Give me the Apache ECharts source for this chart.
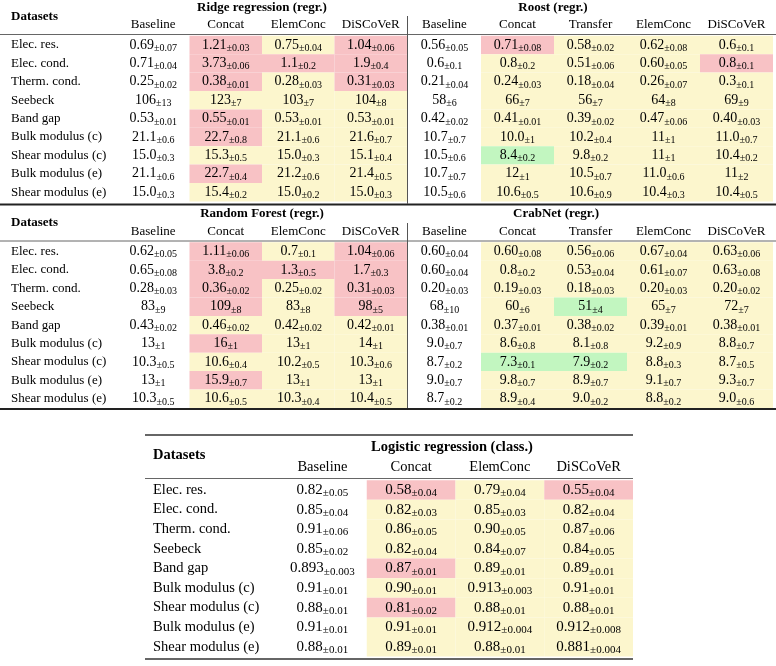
<!DOCTYPE html>
<html><head><meta charset="utf-8">
<script src="https://cdn.jsdelivr.net/npm/echarts@6/dist/echarts.min.js"></script>
<style>html,body{margin:0;padding:0;background:#fff}#c{width:776px;height:666px}</style>
</head><body><div id="c"></div>
<script>
const datasets = ['Elec. res.','Elec. cond.','Therm. cond.','Seebeck','Band gap','Bulk modulus (c)','Shear modulus (c)','Bulk modulus (e)','Shear modulus (e)'];
const methods4 = ['Baseline','Concat','ElemConc','DiSCoVeR'];
const methods5 = ['Baseline','Concat','Transfer','ElemConc','DiSCoVeR'];

// Ridge regression (regr.)
const ridgeMean = [
 ['0.69','1.21','0.75','1.04'],['0.71','3.73','1.1','1.9'],['0.25','0.38','0.28','0.31'],
 ['106','123','103','104'],['0.53','0.55','0.53','0.53'],['21.1','22.7','21.1','21.6'],
 ['15.0','15.3','15.0','15.1'],['21.1','22.7','21.2','21.4'],['15.0','15.4','15.0','15.0']];
const ridgeStd = [
 ['0.07','0.03','0.04','0.06'],['0.04','0.06','0.2','0.4'],['0.02','0.01','0.03','0.03'],
 ['13','7','7','8'],['0.01','0.01','0.01','0.01'],['0.6','0.8','0.6','0.7'],
 ['0.3','0.5','0.3','0.4'],['0.6','0.4','0.6','0.5'],['0.3','0.2','0.2','0.3']];
const ridgeFlag = [
 ['-','r','y','r'],['-','r','r','r'],['-','r','y','r'],['-','y','y','y'],['-','r','y','y'],
 ['-','r','y','y'],['-','y','y','y'],['-','r','y','y'],['-','y','y','y']];

// Roost (regr.)
const roostMean = [
 ['0.56','0.71','0.58','0.62','0.6'],['0.6','0.8','0.51','0.60','0.8'],['0.21','0.24','0.18','0.26','0.3'],
 ['58','66','56','64','69'],['0.42','0.41','0.39','0.47','0.40'],['10.7','10.0','10.2','11','11.0'],
 ['10.5','8.4','9.8','11','10.4'],['10.7','12','10.5','11.0','11'],['10.5','10.6','10.6','10.4','10.4']];
const roostStd = [
 ['0.05','0.08','0.02','0.08','0.1'],['0.1','0.2','0.06','0.05','0.1'],['0.04','0.03','0.04','0.07','0.1'],
 ['6','7','7','8','9'],['0.02','0.01','0.02','0.06','0.03'],['0.7','1','0.4','1','0.7'],
 ['0.6','0.2','0.2','1','0.2'],['0.7','1','0.7','0.6','2'],['0.6','0.5','0.9','0.3','0.5']];
const roostFlag = [
 ['-','r','y','y','y'],['-','y','y','y','r'],['-','y','y','y','y'],['-','y','y','y','y'],['-','y','y','y','y'],
 ['-','y','y','y','y'],['-','g','y','y','y'],['-','y','y','y','y'],['-','y','y','y','y']];

// Random Forest (regr.)
const rfMean = [
 ['0.62','1.11','0.7','1.04'],['0.65','3.8','1.3','1.7'],['0.28','0.36','0.25','0.31'],
 ['83','109','83','98'],['0.43','0.46','0.42','0.42'],['13','16','13','14'],
 ['10.3','10.6','10.2','10.3'],['13','15.9','13','13'],['10.3','10.6','10.3','10.4']];
const rfStd = [
 ['0.05','0.06','0.1','0.06'],['0.08','0.2','0.5','0.3'],['0.03','0.02','0.02','0.03'],
 ['9','8','8','5'],['0.02','0.02','0.02','0.01'],['1','1','1','1'],
 ['0.5','0.4','0.5','0.6'],['1','0.7','1','1'],['0.5','0.5','0.4','0.5']];
const rfFlag = [
 ['-','r','y','r'],['-','r','r','r'],['-','r','y','r'],['-','r','y','r'],['-','y','y','y'],
 ['-','r','y','y'],['-','y','y','y'],['-','r','y','y'],['-','y','y','y']];

// CrabNet (regr.)
const crabMean = [
 ['0.60','0.60','0.56','0.67','0.63'],['0.60','0.8','0.53','0.61','0.63'],['0.20','0.19','0.18','0.20','0.20'],
 ['68','60','51','65','72'],['0.38','0.37','0.38','0.39','0.38'],['9.0','8.6','8.1','9.2','8.8'],
 ['8.7','7.3','7.9','8.8','8.7'],['9.0','9.8','8.9','9.1','9.3'],['8.7','8.9','9.0','8.8','9.0']];
const crabStd = [
 ['0.04','0.08','0.06','0.04','0.06'],['0.04','0.2','0.04','0.07','0.08'],['0.03','0.03','0.03','0.03','0.02'],
 ['10','6','4','7','7'],['0.01','0.01','0.02','0.01','0.01'],['0.7','0.8','0.8','0.9','0.7'],
 ['0.2','0.1','0.2','0.3','0.5'],['0.7','0.7','0.7','0.7','0.7'],['0.2','0.4','0.2','0.2','0.6']];
const crabFlag = [
 ['-','y','y','y','y'],['-','y','y','y','y'],['-','y','y','y','y'],['-','y','g','y','y'],['-','y','y','y','y'],
 ['-','y','y','y','y'],['-','g','g','y','y'],['-','y','y','y','y'],['-','y','y','y','y']];

// Logistic regression (class.)
const logMean = [
 ['0.82','0.58','0.79','0.55'],['0.85','0.82','0.85','0.82'],['0.91','0.86','0.90','0.87'],
 ['0.85','0.82','0.84','0.84'],['0.893','0.87','0.89','0.89'],['0.91','0.90','0.913','0.91'],
 ['0.88','0.81','0.88','0.88'],['0.91','0.91','0.912','0.912'],['0.88','0.89','0.88','0.881']];
const logStd = [
 ['0.05','0.04','0.04','0.04'],['0.04','0.03','0.03','0.04'],['0.06','0.05','0.05','0.06'],
 ['0.02','0.04','0.07','0.05'],['0.003','0.01','0.01','0.01'],['0.01','0.01','0.003','0.01'],
 ['0.01','0.02','0.01','0.01'],['0.01','0.01','0.004','0.008'],['0.01','0.01','0.01','0.004']];
const logFlag = [
 ['-','r','y','r'],['-','y','y','y'],['-','y','y','y'],['-','y','y','y'],['-','r','y','y'],
 ['-','y','y','y'],['-','r','y','y'],['-','y','y','y'],['-','y','y','y']];

const FONT = '"Liberation Serif","Times New Roman",serif';
const FILL = { r: '#f8c2c5', y: '#fcf6cd', g: '#c2f6c0', '-': null };

const mctx = document.createElement('canvas').getContext('2d');
function textWidth(t, size) { mctx.font = size + 'px ' + FONT; return mctx.measureText(t).width; }

const blocks = [
  { methods: methods4, mean: ridgeMean, std: ridgeStd, flag: ridgeFlag, grid: {left:117, top:35.8, width:290, height:165.6}, labels:true, lm:106, fs:13, vf:14, sf:10, xm:11 },
  { methods: methods5, mean: roostMean, std: roostStd, flag: roostFlag, grid: {left:408, top:35.8, width:365, height:165.6}, labels:false, lm:0, fs:13, vf:14, sf:10, xm:11 },
  { methods: methods4, mean: rfMean, std: rfStd, flag: rfFlag, grid: {left:117, top:242.3, width:290, height:165.6}, labels:true, lm:106, fs:13, vf:14, sf:10, xm:11 },
  { methods: methods5, mean: crabMean, std: crabStd, flag: crabFlag, grid: {left:408, top:242.3, width:365, height:165.6}, labels:false, lm:0, fs:13, vf:14, sf:10, xm:11 },
  { methods: methods4, mean: logMean, std: logStd, flag: logFlag, grid: {left:278, top:480.2, width:355, height:176.4}, labels:true, lm:125, fs:14.5, vf:15, sf:11, xm:13 }
];

const grid = [], xAxis = [], yAxis = [], series = [];
blocks.forEach((b, gi) => {
  grid.push(Object.assign({containLabel:false}, b.grid));
  xAxis.push({ type:'category', gridIndex: gi, data: b.methods, position:'top',
    axisLine:{show:false}, axisTick:{show:false}, splitLine:{show:false},
    axisLabel:{ fontFamily: FONT, fontSize: b.fs, color:'#000', margin: b.xm, verticalAlign:'middle', interval:0 } });
  yAxis.push({ type:'category', gridIndex: gi, data: datasets, inverse:true,
    axisLine:{show:false}, axisTick:{show:false}, splitLine:{show:false},
    axisLabel:{ show: b.labels, fontFamily: FONT, fontSize: b.fs, color:'#000', align:'left', margin: b.lm, interval:0 } });
  const cells = [];
  b.mean.forEach((row, r) => row.forEach((m, c) => cells.push({ value:[c, r], m: m, s: '±' + b.std[r][c], f: b.flag[r][c] })));
  const subDy = b.vf * 0.3375 + 2 - b.sf * 0.3375;
  series.push({
    type:'custom', xAxisIndex: gi, yAxisIndex: gi, data: cells.map(d => d.value), silent:true,
    renderItem: function (params, api) {
      const d = cells[params.dataIndex];
      const p = api.coord([api.value(0), api.value(1)]);
      const sz = api.size([1, 1]);
      const ch = [];
      if (FILL[d.f]) ch.push({ type:'rect', shape:{ x: p[0]-sz[0]/2, y: p[1]-sz[1]/2, width: sz[0], height: sz[1] }, style:{ fill: FILL[d.f] } });
      const wm = textWidth(d.m, b.vf), ws = textWidth(d.s, b.sf);
      const x0 = p[0] - (wm + ws) / 2;
      ch.push({ type:'text', x: x0, y: p[1], style:{ text: d.m, fontFamily: FONT, fontSize: b.vf, fill:'#000', align:'left', verticalAlign:'middle' } });
      ch.push({ type:'text', x: x0 + wm, y: p[1] + subDy, style:{ text: d.s, fontFamily: FONT, fontSize: b.sf, fill:'#000', align:'left', verticalAlign:'middle' } });
      return { type:'group', children: ch };
    }
  });
});

function txt(text, x, y, align, bold, size) {
  return { type:'text', x: x, y: y, silent:true, style:{ text: text, fontFamily: FONT, fontSize: size || 13, fontWeight: bold ? 'bold' : 'normal', fill:'#000', align: align || 'center', verticalAlign:'middle' } };
}
function hline(x1, x2, y, w, color) {
  return { type:'line', silent:true, shape:{ x1:x1, y1:y, x2:x2, y2:y }, style:{ stroke: color || '#000', lineWidth: w } };
}
function vline(x, y1, y2) {
  return { type:'line', silent:true, shape:{ x1:x, y1:y1, x2:x, y2:y2 }, style:{ stroke:'#555', lineWidth: 1 } };
}

const graphic = [
  txt('Ridge regression (regr.)', 262, 7.5, 'center', true),
  txt('Roost (regr.)', 553, 7.5, 'center', true),
  txt('Datasets', 11, 16.5, 'left', true),
  txt('Random Forest (regr.)', 262, 214, 'center', true),
  txt('CrabNet (regr.)', 556, 214, 'center', true),
  txt('Datasets', 11, 223, 'left', true),
  txt('Logistic regression (class.)', 452, 447, 'center', true, 14.5),
  txt('Datasets', 153, 455, 'left', true, 14.5),
  hline(0, 776, 34.5, 1, '#666'),
  hline(0, 776, 204.5, 2, '#222'),
  hline(0, 776, 241, 1, '#666'),
  hline(0, 776, 409, 2, '#222'),
  vline(407.5, 16, 204),
  vline(407.5, 223, 408),
  hline(145, 633, 435, 1.5, '#333'),
  hline(145, 633, 478.5, 1, '#666'),
  hline(145, 633, 659, 1.5, '#333')
];

const chart = echarts.init(document.getElementById('c'), null, { renderer:'canvas' });
chart.setOption({ animation:false, backgroundColor:'#fff', grid, xAxis, yAxis, series, graphic });
</script>
</body></html>
